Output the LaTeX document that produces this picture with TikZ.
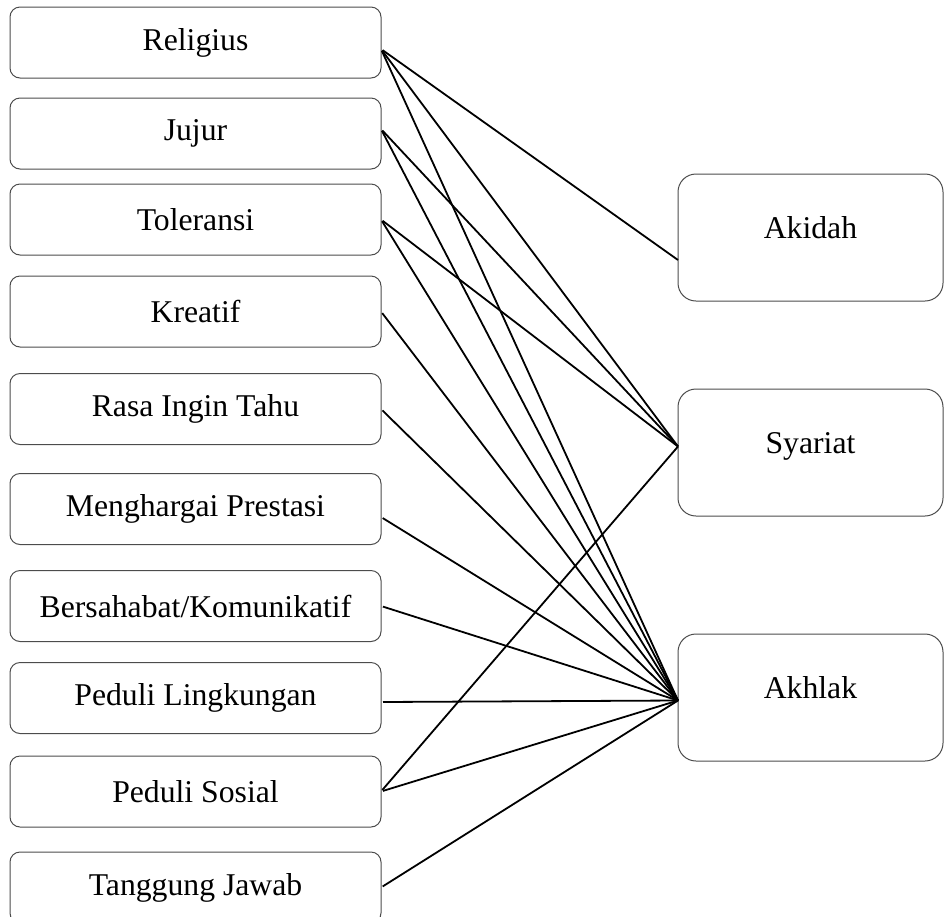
\documentclass[tikz,border=0pt]{standalone}
\usepackage{fontspec}
\setmainfont{Liberation Serif}
\usetikzlibrary{positioning}
\tikzstyle{nilai} = [rectangle, draw=black!70, line width=0.5pt, rounded corners=5pt, text centered, minimum width=185.5pt, minimum height=35.5pt, inner sep=0pt, outer sep=0pt, font=\fontsize{15.85pt}{19pt}\selectfont]
\tikzstyle{aspek} = [rectangle, draw=black!70, line width=0.5pt, rounded corners=9pt, text centered, minimum width=132.5pt, minimum height=63.5pt, text depth=10pt, inner sep=0pt, outer sep=0pt, font=\fontsize{15.85pt}{19pt}\selectfont]
\tikzstyle{link} = [line width=0.9pt, shorten <=1pt]

\begin{document}
\begin{tikzpicture}[x=0.5pt, y=-0.5pt]
    \useasboundingbox (0,0) rectangle (944,917);

    % nilai karakter
    \node[nilai] (religius) at (195.5,42.5) {Religius};
    \node[nilai, below=10pt of religius] (jujur) {Jujur};
    \node[nilai, below=7.5pt of jujur] (toleransi) {Toleransi};
    \node[nilai, below=10.5pt of toleransi] (kreatif) {Kreatif};
    \node[nilai, below=13.25pt of kreatif] (ingintahu) {Rasa Ingin Tahu};
    \node[nilai, below=14.5pt of ingintahu] (prestasi) {Menghargai Prestasi};
    \node[nilai, below=13pt of prestasi] (komunikatif) {Bersahabat/Komunikatif};
    \node[nilai, below=10.5pt of komunikatif] (lingkungan) {Peduli Lingkungan};
    \node[nilai, below=11.25pt of lingkungan] (sosial) {Peduli Sosial};
    \node[nilai, below=12.5pt of sosial] (tanggungjawab) {Tanggung Jawab};

    % aspek
    \node[aspek] (akidah) at (810.5,237.5) {Akidah};
    \node[aspek, below=44pt of akidah] (syariat) {Syariat};
    \node[aspek, below=59pt of syariat] (akhlak) {Akhlak};

    \coordinate (religius-out) at ([yshift=-3.25pt]religius.east);
    \coordinate (jujur-out) at ([yshift=2.25pt]jujur.east);
    \coordinate (prestasi-out) at ([yshift=-4pt]prestasi.east);
    \coordinate (lingkungan-out) at ([yshift=-2pt]lingkungan.east);
    \coordinate (akidah-in) at ([yshift=-11.25pt]akidah.west);
    \coordinate (syariat-in) at ([yshift=3pt]syariat.west);
    \coordinate (akhlak-in) at ([yshift=-1.5pt]akhlak.west);

    % ke akidah dan syariat
    \draw[link] (religius-out) -- (akidah-in);
    \draw[link] (religius-out) -- (syariat-in);
    \draw[link] (jujur-out) -- (syariat-in);
    \draw[link] (toleransi.east) -- (syariat-in);
    \draw[link] (sosial.east) -- (syariat-in);

    % ke akhlak
    \draw[link] (religius-out) -- (akhlak-in);
    \draw[link] (jujur-out) -- (akhlak-in);
    \draw[link] (toleransi.east) -- (akhlak-in);
    \draw[link] (kreatif.east) -- (akhlak-in);
    \draw[link] (ingintahu.east) -- (akhlak-in);
    \draw[link] (prestasi-out) -- (akhlak-in);
    \draw[link] (komunikatif.east) -- (akhlak-in);
    \draw[link] (lingkungan-out) -- (akhlak-in);
    \draw[link] (sosial.east) -- (akhlak-in);
    \draw[link] (tanggungjawab.east) -- (akhlak-in);
\end{tikzpicture}
\end{document}
